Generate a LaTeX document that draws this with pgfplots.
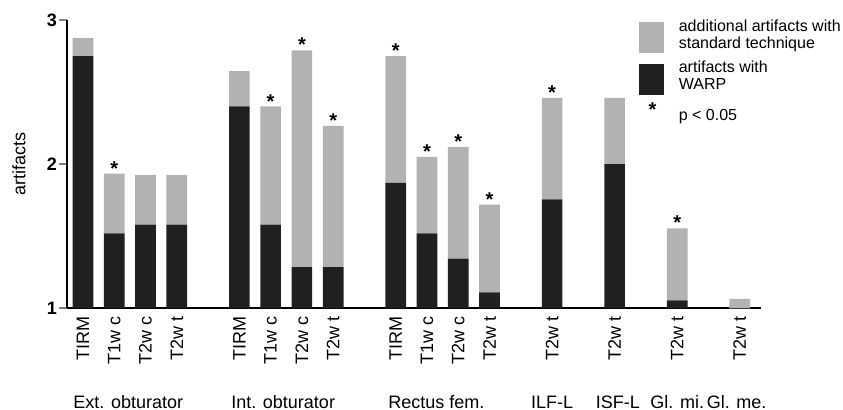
\documentclass[border=0pt]{standalone}
\usepackage{fontspec}
\setmainfont{Liberation Sans}
\usepackage{pgfplots}
\pgfplotsset{compat=1.18}
\definecolor{darkbar}{RGB}{32,32,32}
\definecolor{lightbar}{RGB}{178,178,178}
\tikzset{grplabel/.style={anchor=base, inner sep=0pt, font=\fontsize{9}{9}\selectfont},
         sigstar/.style={anchor=south, inner sep=0pt, yshift=-1pt, font=\bfseries\fontsize{10}{10}\selectfont}}
\begin{document}
\begin{tikzpicture}
\useasboundingbox (-33.35pt,-50.85pt) rectangle (388.15pt,154.15pt);
\begin{axis}[
  at={(0pt,0pt)}, anchor=south west,
  scale only axis,
  width=347pt, height=144.15pt,
  ybar stacked, bar width=0.66,
  xmin=-0.521, xmax=21.67, ymin=1, ymax=3,
  enlargelimits=false,
  axis lines*=left,
  axis line style={-, line width=1pt},
  xtick={0,1,2,3,5,6,7,8,10,11,12,13,15,17,19,21},
  xticklabels={TIRM,T1w c,T2w c,T2w t,TIRM,T1w c,T2w c,T2w t,TIRM,T1w c,T2w c,T2w t,T2w t,T2w t,T2w t,T2w t},
  xtick style={draw=none},
  xticklabel style={rotate=90, anchor=east, inner sep=0pt, font=\fontsize{9}{9}\selectfont},
  ytick={1,2,3},
  tick align=outside,
  ytick style={line width=1pt},
  major tick length=3.75pt,
  yticklabel style={font=\bfseries\fontsize{9}{9}\selectfont, inner sep=1pt},
  /pgf/number format/assume math mode=true,
  ylabel={artifacts},
  ylabel style={at={(axis description cs:-0.0687,0.5)}, anchor=center, font=\fontsize{9}{9}\selectfont},
  clip=false,
]
% artifacts with WARP
\addplot[fill=darkbar, draw=none] coordinates {
  (0,2.75) (1,1.52) (2,1.58) (3,1.58)
  (5,2.40) (6,1.58) (7,1.285) (8,1.285)
  (10,1.87) (11,1.52) (12,1.345) (13,1.11)
  (15,1.755) (17,2.0) (19,1.055) (21,1.0)
};
% additional artifacts with standard technique
\addplot[fill=lightbar, draw=none] coordinates {
  (0,0.125) (1,0.415) (2,0.345) (3,0.345)
  (5,0.245) (6,0.82) (7,1.505) (8,0.98)
  (10,0.88) (11,0.53) (12,0.775) (13,0.61)
  (15,0.705) (17,0.46) (19,0.5) (21,0.065)
};
% significance (p < 0.05) above total bar height
\node[sigstar] at (axis cs:1,1.935) {*};
\node[sigstar] at (axis cs:6,2.40) {*};
\node[sigstar] at (axis cs:7,2.79) {*};
\node[sigstar] at (axis cs:8,2.265) {*};
\node[sigstar] at (axis cs:10,2.75) {*};
\node[sigstar] at (axis cs:11,2.05) {*};
\node[sigstar] at (axis cs:12,2.12) {*};
\node[sigstar] at (axis cs:13,1.72) {*};
\node[sigstar] at (axis cs:15,2.46) {*};
\node[sigstar] at (axis cs:19,1.555) {*};
% group labels
\node[grplabel] at (axis cs:1.45,0.308) {Ext. obturator};
\node[grplabel] at (axis cs:6.4,0.308) {Int. obturator};
\node[grplabel] at (axis cs:11.3,0.308) {Rectus fem.};
\node[grplabel] at (axis cs:15.0,0.308) {ILF-L};
\node[grplabel] at (axis cs:17.1,0.308) {ISF-L};
\node[grplabel] at (axis cs:19.0,0.308) {Gl. mi.};
\node[grplabel] at (axis cs:20.9,0.308) {Gl. me.};
\end{axis}
\begin{axis}[
  at={(0pt,0pt)}, anchor=south west,
  scale only axis,
  width=347pt, height=144.15pt,
  xmin=0, xmax=1, ymin=0, ymax=1,
  hide axis,
  legend style={at={(axis description cs:0.8247,1.0)}, anchor=north west, draw=none, fill=none,
    inner sep=0pt, outer sep=0pt, row sep=4pt,
    font=\fontsize{8}{8.5}\selectfont, nodes={inner sep=0pt, align=left}},
  legend cell align=left,
]
\addlegendimage{legend image code/.code={\fill[lightbar] (0pt,-8.5pt) rectangle (12pt,6.5pt); \path (19.5pt,0pt);}}
\addlegendentry{additional artifacts with\\standard technique}
\addlegendimage{legend image code/.code={\fill[darkbar] (0pt,-8.5pt) rectangle (12pt,6.5pt); \path (19.5pt,0pt);}}
\addlegendentry{artifacts with\\WARP}
\addlegendimage{legend image code/.code={\node[anchor=base, inner sep=0pt, font=\bfseries\fontsize{10}{10}\selectfont] at (6.5pt,0.2pt) {*}; \path (19.5pt,0pt);}}
\addlegendentry{p < 0.05}
\end{axis}
\end{tikzpicture}
\end{document}
